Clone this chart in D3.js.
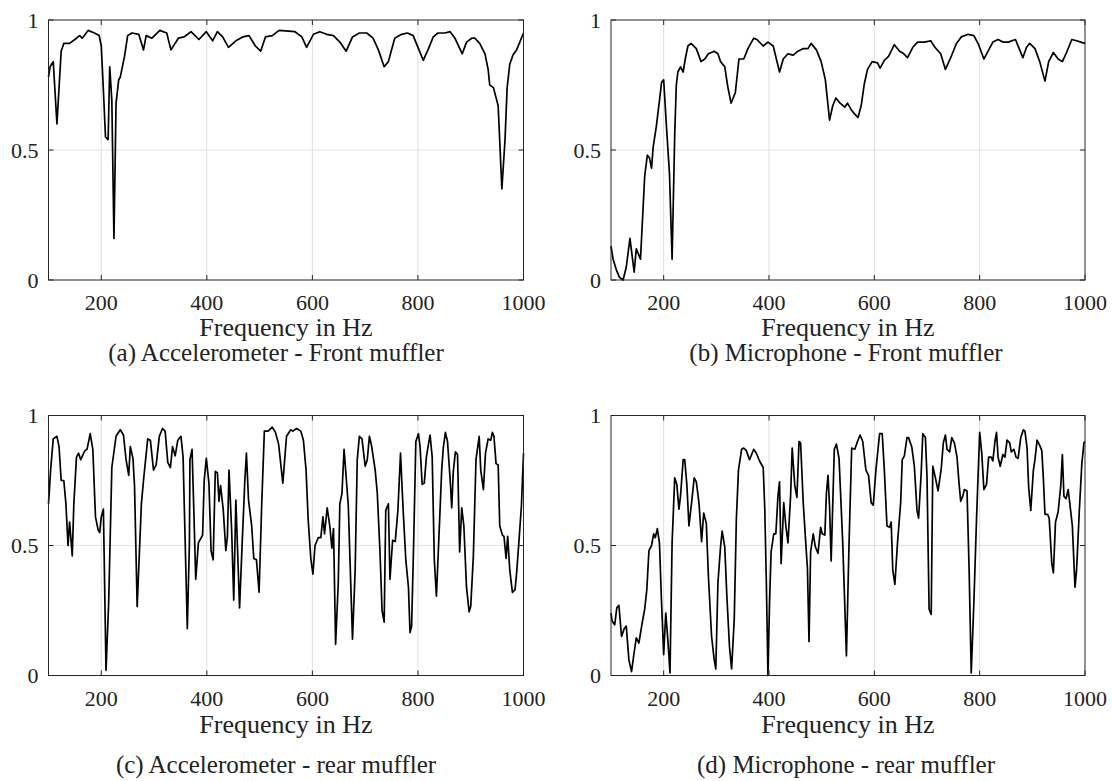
<!DOCTYPE html>
<html>
<head>
<meta charset="utf-8">
<script src="https://cdn.jsdelivr.net/npm/d3@7"></script>
<style>
    html, body { margin: 0; padding: 0; background: #fff; }
    svg { display: block; }
</style>
</head>
<body>
<svg id="chart" width="1112" height="781" font-family="Liberation Serif"></svg>
<script>
// ================================
// DATA
// ================================
const xTicks = [200, 400, 600, 800, 1000];
const yTicks = [0, 0.5, 1];
const yTickLabels = ["0", "0.5", "1"];
const xLabel = "Frequency in Hz";
const captions = [
    "(a) Accelerometer - Front muffler",
    "(b) Microphone - Front muffler",
    "(c) Accelerometer - rear muffler",
    "(d) Microphone - rear muffler"
];

const freqA = [100,103,109,116,124,129,140,153,159,164,175,187,196,200,204,208,213,216,220,224,228,233,236,244,250,258,271,280,285,296,311,324,332,346,357,370,385,399,411,420,430,441,455,468,480,492,502,511,524,537,567,580,589,602,614,627,640,652,664,676,689,703,715,725,736,744,756,769,780,791,801,810,820,829,838,851,861,870,884,892,902,908,917,927,933,936,943,952,959,965,969,974,980,987,993,1000];
const coherA = [.78,.82,.84,.60,.88,.91,.91,.93,.94,.93,.96,.95,.94,.90,.73,.55,.54,.82,.69,.16,.68,.77,.78,.86,.94,.95,.945,.885,.94,.93,.96,.95,.885,.93,.935,.955,.925,.955,.92,.955,.935,.895,.92,.935,.94,.90,.88,.935,.94,.96,.955,.935,.895,.945,.955,.945,.94,.915,.88,.935,.95,.95,.93,.885,.82,.84,.93,.945,.95,.94,.89,.845,.89,.935,.95,.95,.955,.93,.87,.915,.93,.93,.91,.87,.81,.75,.74,.67,.35,.54,.74,.83,.865,.885,.915,.95];

const freqB = [100,104,110,116,123,129,136,144,148,156,164,169,173,177,180,186,192,196,200,205,211,216,221,224,227,232,237,241,246,252,262,271,278,285,296,303,308,316,322,328,336,343,352,360,371,377,389,398,408,414,420,427,436,446,455,465,474,480,490,499,507,515,521,527,535,544,549,556,562,569,575,581,587,596,606,611,619,627,638,648,656,663,673,682,695,707,715,726,735,745,756,765,778,789,798,808,816,825,835,844,854,868,876,882,889,895,905,914,924,931,940,949,957,965,975,984,992,1000];
const coherB = [.13,.08,.04,.01,.00,.05,.16,.03,.12,.08,.40,.48,.47,.43,.51,.59,.69,.76,.77,.60,.41,.08,.56,.75,.80,.82,.80,.85,.90,.91,.89,.84,.85,.87,.88,.87,.84,.82,.74,.68,.72,.85,.85,.89,.93,.925,.90,.915,.90,.85,.80,.85,.87,.865,.88,.89,.89,.91,.885,.84,.77,.615,.67,.70,.68,.665,.68,.655,.64,.625,.67,.755,.81,.84,.835,.815,.845,.86,.905,.88,.87,.855,.895,.915,.915,.92,.895,.87,.81,.855,.91,.935,.945,.94,.905,.85,.88,.915,.925,.915,.915,.925,.885,.855,.895,.91,.89,.84,.765,.84,.875,.85,.84,.875,.925,.92,.915,.91];

const freqC = [100,104,109,116,120,124,129,133,137,140,145,148,153,157,161,169,173,179,184,189,194,197,200,204,209,214,220,228,236,242,247,252,255,260,263,268,276,280,288,293,299,304,310,316,321,326,331,335,340,345,351,355,359,363,367,368,372,375,379,384,392,395,399,404,408,412,416,420,423,426,431,436,439,442,447,451,455,462,467,472,475,479,485,489,494,499,504,509,516,524,530,536,544,551,559,563,570,578,583,588,592,597,601,605,611,616,620,623,628,633,637,640,644,649,652,656,660,668,676,681,685,689,694,700,704,708,712,719,723,728,732,736,739,744,747,752,757,762,767,772,777,782,785,788,792,796,801,804,808,812,816,820,823,827,831,835,840,845,848,852,856,861,864,867,871,875,879,883,887,892,897,900,905,910,916,919,924,928,933,938,941,944,948,952,955,960,963,967,970,974,979,984,987,992,996,1000];
const coherC = [.66,.79,.91,.92,.88,.75,.75,.66,.50,.59,.46,.66,.84,.855,.83,.865,.87,.93,.87,.61,.56,.55,.61,.64,.02,.28,.80,.92,.945,.925,.83,.77,.88,.835,.73,.265,.66,.75,.91,.905,.79,.81,.92,.95,.94,.82,.80,.88,.845,.905,.92,.84,.51,.18,.51,.83,.87,.66,.37,.51,.54,.75,.835,.74,.48,.445,.785,.78,.67,.73,.64,.48,.535,.79,.56,.29,.675,.26,.51,.75,.855,.675,.575,.45,.445,.32,.66,.94,.94,.955,.935,.89,.74,.92,.945,.94,.95,.94,.905,.79,.60,.45,.39,.50,.53,.53,.61,.545,.645,.575,.49,.565,.12,.355,.66,.70,.87,.655,.14,.405,.83,.92,.91,.805,.83,.92,.885,.79,.70,.48,.25,.205,.635,.66,.37,.52,.515,.635,.855,.635,.445,.34,.165,.19,.52,.90,.93,.88,.735,.74,.84,.89,.925,.84,.445,.305,.545,.79,.875,.935,.90,.755,.645,.785,.86,.85,.475,.645,.575,.34,.245,.265,.46,.83,.92,.79,.715,.855,.91,.905,.935,.92,.815,.81,.575,.54,.535,.45,.535,.405,.32,.33,.395,.535,.65,.855];

const freqD = [100,102,107,111,115,120,125,129,134,139,143,148,153,159,164,168,172,177,181,184,188,192,196,200,204,208,212,216,221,225,229,232,237,240,244,248,253,258,262,267,272,276,281,285,291,296,299,303,308,311,316,320,325,329,334,338,342,348,352,357,363,371,376,382,389,392,395,398,401,404,409,413,417,420,423,428,432,436,441,444,449,453,457,460,465,469,473,476,479,484,488,493,498,501,506,509,512,515,518,524,528,533,540,547,552,557,563,568,573,578,584,589,594,598,603,610,615,619,624,629,632,635,639,644,650,653,657,662,665,671,676,681,684,689,692,697,700,704,708,711,716,721,727,731,735,738,743,747,752,757,761,764,768,771,776,780,784,789,794,800,804,808,813,817,822,825,829,832,835,839,844,848,852,857,860,865,869,873,878,883,886,890,893,897,902,905,909,914,918,921,924,929,932,937,940,944,949,954,957,960,964,968,971,976,981,984,989,994,998,1000];
const coherD = [.24,.21,.195,.26,.27,.15,.18,.19,.06,.015,.075,.145,.125,.20,.255,.33,.48,.50,.545,.53,.565,.51,.28,.08,.24,.135,.01,.51,.76,.735,.64,.69,.83,.83,.735,.575,.665,.76,.745,.665,.515,.625,.585,.38,.15,.06,.025,.355,.495,.555,.495,.305,.11,.025,.215,.60,.79,.87,.875,.865,.83,.87,.855,.825,.80,.64,.355,.00,.28,.475,.545,.545,.69,.745,.43,.665,.575,.51,.69,.875,.73,.685,.90,.895,.665,.535,.41,.13,.475,.545,.495,.47,.57,.545,.54,.70,.77,.65,.44,.87,.89,.835,.51,.075,.51,.875,.87,.90,.925,.90,.79,.77,.665,.655,.79,.93,.93,.79,.575,.57,.59,.405,.35,.51,.665,.83,.845,.915,.915,.88,.805,.635,.605,.78,.93,.915,.765,.255,.235,.805,.76,.71,.795,.895,.925,.87,.86,.915,.895,.84,.735,.67,.69,.715,.71,.405,.01,.28,.60,.935,.855,.715,.735,.84,.84,.825,.90,.935,.84,.805,.85,.84,.905,.895,.86,.87,.84,.835,.915,.945,.94,.875,.725,.635,.79,.83,.905,.885,.865,.755,.62,.62,.605,.43,.395,.59,.63,.73,.85,.69,.68,.715,.665,.575,.34,.405,.625,.815,.895,.90];

// ================================
// LAYOUT
// ================================
const serif = "Liberation Serif";
const svg = d3.select("#chart");

const cols = [
    { left: 48.5, right: 523.5, capX: 276 },
    { left: 611, right: 1085, capX: 846 }
];
const rows = [
    { top: 20, bottom: 280, labelY: 336, capY: 361 },
    { top: 415.5, bottom: 675.5, labelY: 733, capY: 773 }
];

const panels = [
    { freq: freqA, vals: coherA, caption: captions[0], col: cols[0], row: rows[0] },
    { freq: freqB, vals: coherB, caption: captions[1], col: cols[1], row: rows[0] },
    { freq: freqC, vals: coherC, caption: captions[2], col: cols[0], row: rows[1] },
    { freq: freqD, vals: coherD, caption: captions[3], col: cols[1], row: rows[1] }
];

const axisColor = "#262626";
const gridColor = "#dfdfdf";
const textColor = "#222";
const tickLen = 5;

// ================================
// DRAW ONE PANEL
// ================================
function drawPanel(p) {
    const x = d3.scaleLinear().domain([100, 1000]).range([p.col.left, p.col.right]);
    const y = d3.scaleLinear().domain([0, 1]).range([p.row.bottom, p.row.top]);

    const g = svg.append("g");

    // grid
    g.selectAll("line.xgrid")
        .data(xTicks.filter(d => d < 1000))
        .join("line")
        .attr("x1", d => x(d)).attr("x2", d => x(d))
        .attr("y1", y(0)).attr("y2", y(1))
        .attr("stroke", gridColor);

    g.selectAll("line.ygrid")
        .data(yTicks.filter(d => d > 0 && d < 1))
        .join("line")
        .attr("x1", x(100)).attr("x2", x(1000))
        .attr("y1", d => y(d)).attr("y2", d => y(d))
        .attr("stroke", gridColor);

    // curve
    const pts = p.freq.map((f, i) => [f, p.vals[i]]);
    const line = d3.line()
        .x(d => x(d[0]))
        .y(d => y(d[1]));

    g.append("path")
        .datum(pts)
        .attr("d", line)
        .attr("fill", "none")
        .attr("stroke", "#000")
        .attr("stroke-width", 1.7)
        .attr("stroke-linejoin", "round");

    // box
    g.append("rect")
        .attr("x", x(100))
        .attr("y", y(1))
        .attr("width", x(1000) - x(100))
        .attr("height", y(0) - y(1))
        .attr("fill", "none")
        .attr("stroke", axisColor);

    // inner ticks on all four sides
    xTicks.forEach(t => {
        g.append("line")
            .attr("x1", x(t)).attr("x2", x(t))
            .attr("y1", y(0)).attr("y2", y(0) - tickLen)
            .attr("stroke", axisColor);
        g.append("line")
            .attr("x1", x(t)).attr("x2", x(t))
            .attr("y1", y(1)).attr("y2", y(1) + tickLen)
            .attr("stroke", axisColor);
    });
    yTicks.forEach(t => {
        g.append("line")
            .attr("x1", x(100)).attr("x2", x(100) + tickLen)
            .attr("y1", y(t)).attr("y2", y(t))
            .attr("stroke", axisColor);
        g.append("line")
            .attr("x1", x(1000)).attr("x2", x(1000) - tickLen)
            .attr("y1", y(t)).attr("y2", y(t))
            .attr("stroke", axisColor);
    });

    // tick labels
    g.selectAll("text.xtick")
        .data(xTicks)
        .join("text")
        .attr("class", "xtick")
        .attr("x", d => x(d))
        .attr("y", y(0) + 30)
        .attr("text-anchor", "middle")
        .attr("font-family", serif)
        .attr("font-size", 22)
        .attr("fill", textColor)
        .text(d => d);

    g.selectAll("text.ytick")
        .data(yTicks)
        .join("text")
        .attr("class", "ytick")
        .attr("x", x(100) - 10)
        .attr("y", d => y(d) + 7.5)
        .attr("text-anchor", "end")
        .attr("font-family", serif)
        .attr("font-size", 22)
        .attr("fill", textColor)
        .text((d, i) => yTickLabels[i]);

    // axis label
    g.append("text")
        .attr("x", (x(100) + x(1000)) / 2)
        .attr("y", p.row.labelY)
        .attr("text-anchor", "middle")
        .attr("font-family", serif)
        .attr("font-size", 26)
        .attr("fill", textColor)
        .text(xLabel);

    // caption
    g.append("text")
        .attr("x", p.col.capX)
        .attr("y", p.row.capY)
        .attr("text-anchor", "middle")
        .attr("font-family", serif)
        .attr("font-size", 25)
        .attr("fill", textColor)
        .text(p.caption);
}

panels.forEach(drawPanel);
</script>
</body>
</html>
